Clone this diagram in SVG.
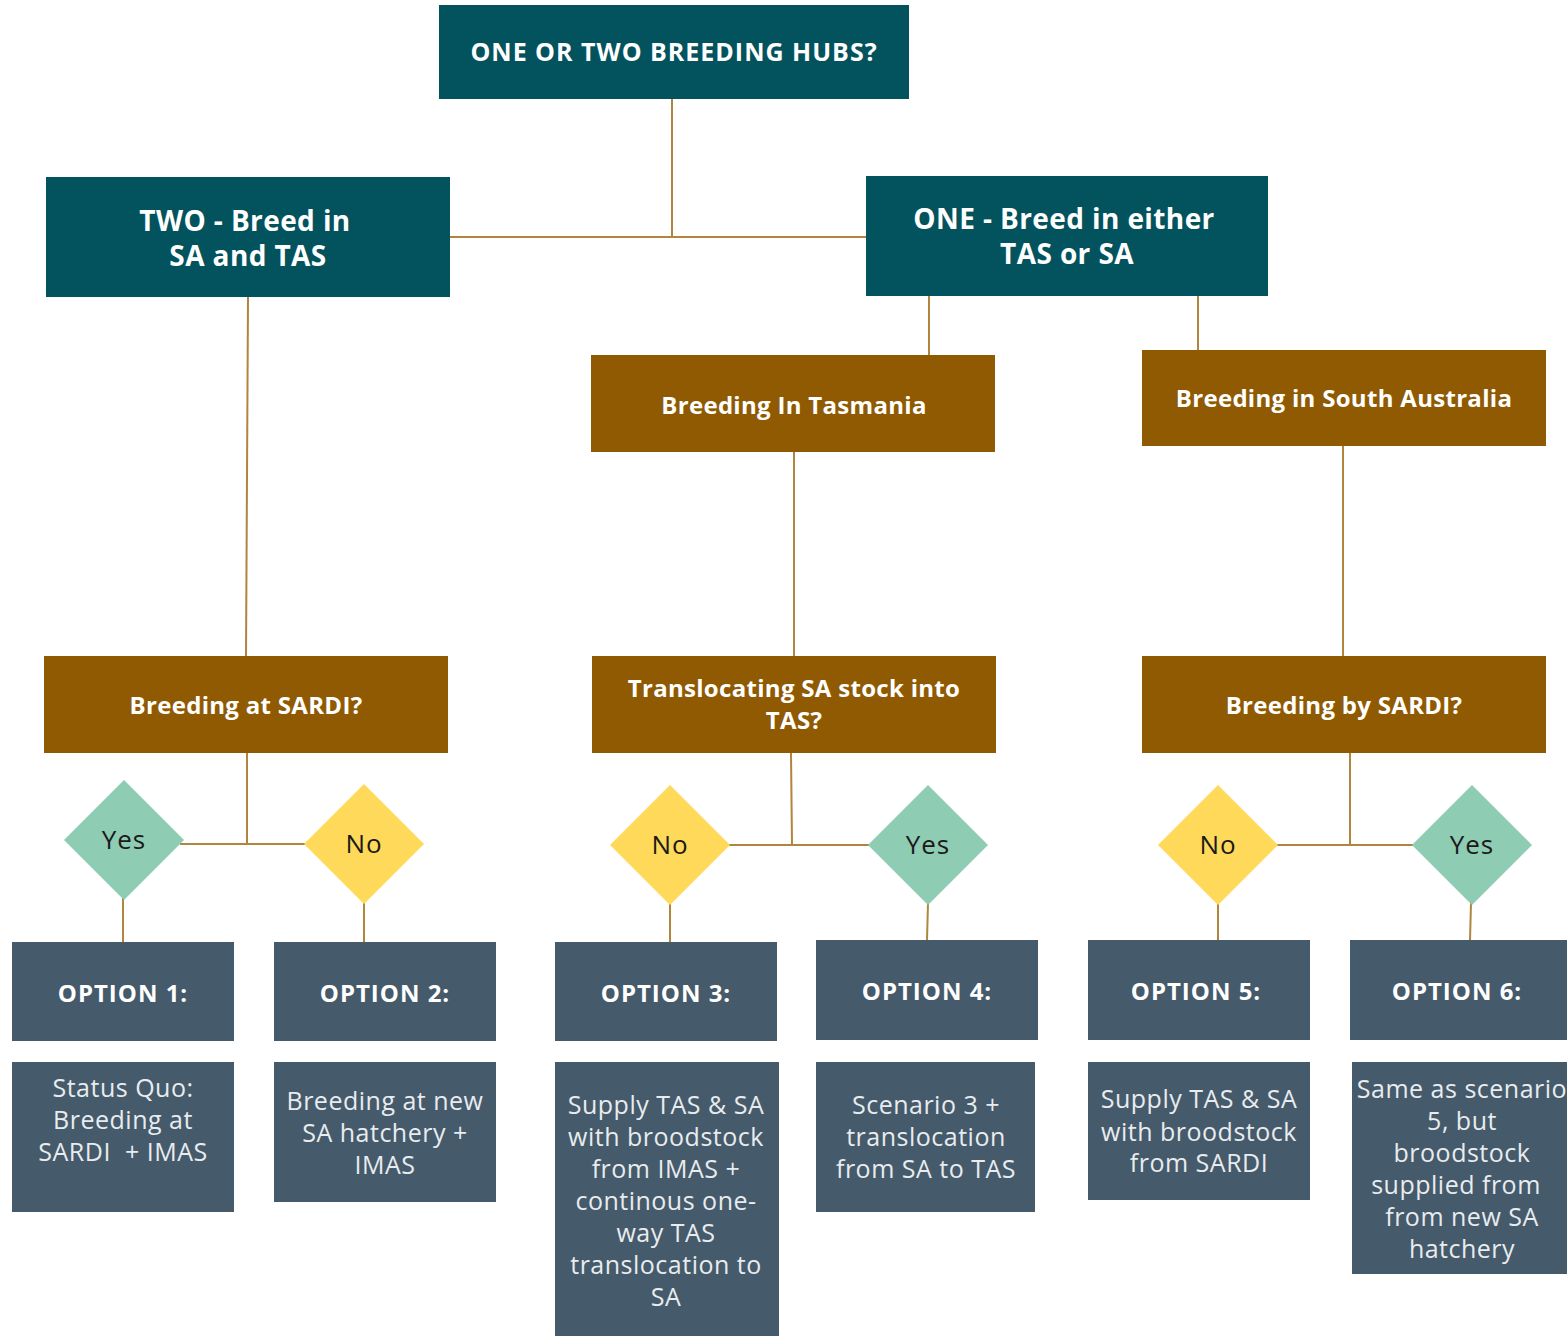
<svg xmlns="http://www.w3.org/2000/svg" width="1567" height="1336" viewBox="0 0 1567 1336">
<style>
.teal{fill:#03535e}
.brown{fill:#8f5a02}
.slate{fill:#455a6a}
.yes{fill:#8ecdb4}
.no{fill:#ffd95a}
.h{font-family:"Open Sans","Liberation Sans",sans-serif;font-weight:700;fill:#ffffff;text-anchor:middle}
.b{font-family:"Open Sans","Liberation Sans",sans-serif;font-weight:400;fill:#e8ecef;text-anchor:middle;font-size:25px;letter-spacing:0.5px}
.d{font-family:"Open Sans","Liberation Sans",sans-serif;font-weight:400;fill:#1a1a1a;text-anchor:middle;font-size:26px;letter-spacing:1px}
.c line{stroke:#b0853d;stroke-width:2}
</style>
<rect width="1567" height="1336" fill="#ffffff"/>
<g class="c" id="connectors">
<line x1="672" y1="99" x2="672" y2="237"/>
<line x1="450" y1="237" x2="866" y2="237"/>
<line x1="929" y1="296" x2="929" y2="355"/>
<line x1="1198" y1="296" x2="1198" y2="350"/>
<line x1="248" y1="297" x2="246" y2="656"/>
<line x1="794" y1="452" x2="794" y2="656"/>
<line x1="1343" y1="446" x2="1343" y2="656"/>
<line x1="247" y1="753" x2="247" y2="844"/>
<line x1="180" y1="844" x2="308" y2="844"/>
<line x1="791" y1="753" x2="792" y2="845"/>
<line x1="726" y1="845" x2="872" y2="845"/>
<line x1="1350" y1="753" x2="1350" y2="845"/>
<line x1="1274" y1="845" x2="1416" y2="845"/>
<line x1="123" y1="898" x2="123" y2="942"/>
<line x1="364" y1="902" x2="364" y2="942"/>
<line x1="670" y1="903" x2="670" y2="942"/>
<line x1="928" y1="903" x2="927" y2="940"/>
<line x1="1218" y1="903" x2="1218" y2="940"/>
<line x1="1471" y1="903" x2="1470" y2="940"/>
</g>
<g id="n-hubs"><rect class="teal" x="439" y="5" width="470" height="94"/><text class="h" x="674" y="61" font-size="25" letter-spacing="1">ONE OR TWO BREEDING HUBS?</text></g>
<g id="n-two"><rect class="teal" x="46" y="177" width="404" height="120"/><text class="h" x="245" y="231" font-size="28" letter-spacing="0.4">TWO - Breed in</text><text class="h" x="248" y="266" font-size="28" letter-spacing="0.4">SA and TAS</text></g>
<g id="n-one"><rect class="teal" x="866" y="176" width="402" height="120"/><text class="h" x="1064" y="229" font-size="28" letter-spacing="0.4">ONE - Breed in either</text><text class="h" x="1067" y="264" font-size="28" letter-spacing="0.4">TAS or SA</text></g>
<g id="n-tas"><rect class="brown" x="591" y="355" width="404" height="97"/><text class="h" x="794" y="414" font-size="24" letter-spacing="0.3">Breeding In Tasmania</text></g>
<g id="n-sa"><rect class="brown" x="1142" y="350" width="404" height="96"/><text class="h" x="1344" y="407" font-size="24" letter-spacing="0.3">Breeding in South Australia</text></g>
<g id="n-sardi"><rect class="brown" x="44" y="656" width="404" height="97"/><text class="h" x="246" y="714" font-size="24" letter-spacing="0.3">Breeding at SARDI?</text></g>
<g id="n-trans"><rect class="brown" x="592" y="656" width="404" height="97"/><text class="h" x="794" y="697" font-size="24" letter-spacing="0.3">Translocating SA stock into</text><text class="h" x="794" y="729" font-size="24" letter-spacing="0.3">TAS?</text></g>
<g id="n-bysardi"><rect class="brown" x="1142" y="656" width="404" height="97"/><text class="h" x="1344" y="714" font-size="24" letter-spacing="0.3">Breeding by SARDI?</text></g>
<g id="d-yes1"><polygon class="yes" points="124,780 184,840 124,900 64,840"/><text class="d" x="124" y="849">Yes</text></g>
<g id="d-no2"><polygon class="no" points="364,784 424,844 364,904 304,844"/><text class="d" x="364" y="853">No</text></g>
<g id="d-no3"><polygon class="no" points="670,785 730,845 670,905 610,845"/><text class="d" x="670" y="854">No</text></g>
<g id="d-yes4"><polygon class="yes" points="928,785 988,845 928,905 868,845"/><text class="d" x="928" y="854">Yes</text></g>
<g id="d-no5"><polygon class="no" points="1218,785 1278,845 1218,905 1158,845"/><text class="d" x="1218" y="854">No</text></g>
<g id="d-yes6"><polygon class="yes" points="1472,785 1532,845 1472,905 1412,845"/><text class="d" x="1472" y="854">Yes</text></g>
<g id="o1"><rect class="slate" x="12" y="942" width="222" height="99"/><text class="h" x="123" y="1002" font-size="24" letter-spacing="1">OPTION 1:</text></g>
<g id="o2"><rect class="slate" x="274" y="942" width="222" height="99"/><text class="h" x="385" y="1002" font-size="24" letter-spacing="1">OPTION 2:</text></g>
<g id="o3"><rect class="slate" x="555" y="942" width="222" height="99"/><text class="h" x="666" y="1002" font-size="24" letter-spacing="1">OPTION 3:</text></g>
<g id="o4"><rect class="slate" x="816" y="940" width="222" height="100"/><text class="h" x="927" y="1000" font-size="24" letter-spacing="1">OPTION 4:</text></g>
<g id="o5"><rect class="slate" x="1088" y="940" width="222" height="100"/><text class="h" x="1196" y="1000" font-size="24" letter-spacing="1">OPTION 5:</text></g>
<g id="o6"><rect class="slate" x="1350" y="940" width="217" height="100"/><text class="h" x="1457" y="1000" font-size="24" letter-spacing="1">OPTION 6:</text></g>
<g id="t1"><rect class="slate" x="12" y="1062" width="222" height="150"/>
<text class="b" x="123" y="1097">Status Quo:</text><text class="b" x="123" y="1129">Breeding at</text><text class="b" x="123" y="1161" xml:space="preserve">SARDI  + IMAS</text></g>
<g id="t2"><rect class="slate" x="274" y="1062" width="222" height="140"/>
<text class="b" x="385" y="1110">Breeding at new</text><text class="b" x="385" y="1142">SA hatchery +</text><text class="b" x="385" y="1174">IMAS</text></g>
<g id="t3"><rect class="slate" x="555" y="1062" width="224" height="274"/>
<text class="b" x="666" y="1114">Supply TAS &amp; SA</text><text class="b" x="666" y="1146">with broodstock</text><text class="b" x="666" y="1178">from IMAS +</text><text class="b" x="666" y="1210">continous one-</text><text class="b" x="666" y="1242">way TAS</text><text class="b" x="666" y="1274">translocation to</text><text class="b" x="666" y="1306">SA</text></g>
<g id="t4"><rect class="slate" x="816" y="1062" width="219" height="150"/>
<text class="b" x="926" y="1114">Scenario 3 +</text><text class="b" x="926" y="1146">translocation</text><text class="b" x="926" y="1178">from SA to TAS</text></g>
<g id="t5"><rect class="slate" x="1088" y="1062" width="222" height="138"/>
<text class="b" x="1199" y="1108">Supply TAS &amp; SA</text><text class="b" x="1199" y="1141">with broodstock</text><text class="b" x="1199" y="1172">from SARDI</text></g>
<g id="t6"><rect class="slate" x="1352" y="1062" width="215" height="212"/>
<text class="b" x="1462" y="1098">Same as scenario</text><text class="b" x="1462" y="1130">5, but</text><text class="b" x="1462" y="1162">broodstock</text><text class="b" x="1456" y="1194">supplied from</text><text class="b" x="1462" y="1226">from new SA</text><text class="b" x="1462" y="1258">hatchery</text></g>
</svg>
